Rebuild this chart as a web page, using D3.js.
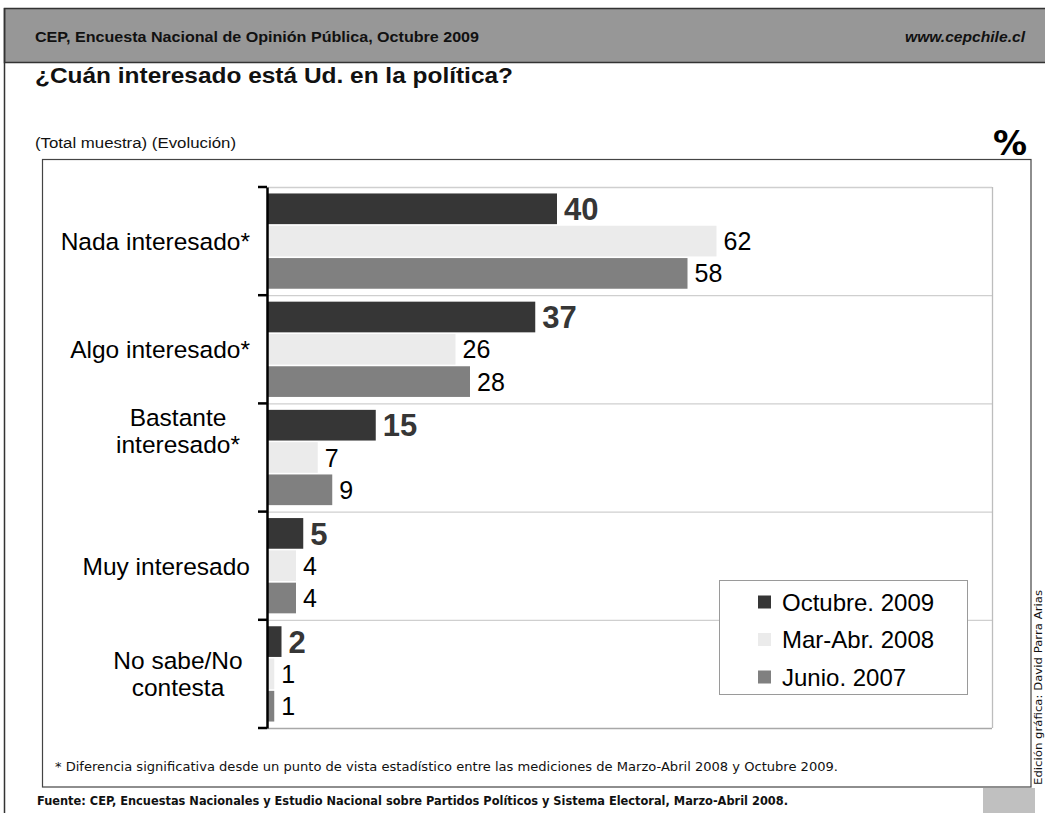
<!DOCTYPE html>
<html>
<head>
<meta charset="utf-8">
<script src="https://cdn.jsdelivr.net/npm/d3@7/dist/d3.min.js"></script>
<style>
  html, body { margin: 0; padding: 0; background: #fff; }
  svg { display: block; }
</style>
</head>
<body>
<svg id="chart" width="1045" height="813"></svg>
<script>
// ---- data ----
const categories = ["Nada interesado*", "Algo interesado*", "Bastante interesado*", "Muy interesado", "No sabe/No contesta"];
const categoryLines = [["Nada interesado*"], ["Algo interesado*"], ["Bastante", "interesado*", "", ""], ["Muy interesado"], ["No sabe/No", "contesta"]];
const seriesNames = ["Octubre. 2009", "Mar-Abr. 2008", "Junio. 2007"];
const octubre2009 = [40, 37, 15, 5, 2];
const marAbr2008 = [62, 26, 7, 4, 1];
const junio2007 = [58, 28, 9, 4, 1];
const seriesColors = ["#363636", "#ebebeb", "#808080"];

const headerLeft = "CEP, Encuesta Nacional de Opinión Pública, Octubre 2009";
const headerRight = "www.cepchile.cl";
const title = "¿Cuán interesado está Ud. en la política?";
const subtitle = "(Total muestra) (Evolución)";
const footnote = "* Diferencia significativa desde un punto de vista estadístico entre las mediciones de Marzo-Abril 2008 y Octubre 2009.";
const source = "Fuente: CEP, Encuestas Nacionales y Estudio Nacional sobre Partidos Políticos y Sistema Electoral, Marzo-Abril 2008.";
const credit = "Edición gráfica: David Parra Arias";

const seriesValues = [octubre2009, marAbr2008, junio2007];

const svg = d3.select("#chart");

// ---- page frame ----
svg.append("rect").attr("x", 4.5).attr("y", 8.5).attr("width", 1045).attr("height", 54)
  .attr("fill", "#979797").attr("stroke", "#333").attr("stroke-width", 1.5);
svg.append("line").attr("x1", 4.5).attr("x2", 4.5).attr("y1", 8).attr("y2", 813)
  .attr("stroke", "#333").attr("stroke-width", 1.5);

svg.append("text").attr("x", 35).attr("y", 42)
  .attr("font-family", "Liberation Sans, Arial, sans-serif").attr("font-weight", "bold")
  .attr("font-size", 14).attr("fill", "#111")
  .attr("textLength", 444).attr("lengthAdjust", "spacingAndGlyphs").text(headerLeft);
svg.append("text").attr("x", 905).attr("y", 42)
  .attr("font-family", "Liberation Sans, Arial, sans-serif").attr("font-weight", "bold")
  .attr("font-style", "italic").attr("font-size", 14).attr("fill", "#111")
  .attr("textLength", 120).attr("lengthAdjust", "spacingAndGlyphs").text(headerRight);

svg.append("text").attr("x", 35).attr("y", 83)
  .attr("font-family", "Liberation Sans, Arial, sans-serif").attr("font-weight", "bold")
  .attr("font-size", 22).attr("fill", "#111")
  .attr("textLength", 478).attr("lengthAdjust", "spacingAndGlyphs").text(title);

svg.append("text").attr("x", 35).attr("y", 148)
  .attr("font-family", "Liberation Sans, Arial, sans-serif")
  .attr("font-size", 14).attr("fill", "#111")
  .attr("textLength", 201).attr("lengthAdjust", "spacingAndGlyphs").text(subtitle);

svg.append("text").attr("x", 1027).attr("y", 155).attr("text-anchor", "end")
  .attr("font-family", "DejaVu Sans, sans-serif").attr("font-weight", "bold")
  .attr("font-size", 34).attr("fill", "#000").text("%");

// chart box
svg.append("rect").attr("x", 42.5).attr("y", 159.5).attr("width", 988.5).attr("height", 627.5)
  .attr("fill", "none").attr("stroke", "#444").attr("stroke-width", 1.2);

// ---- scales ----
const y = d3.scaleBand().domain(categories).range([187, 728]).paddingInner(0).paddingOuter(0);
const yi = d3.scaleBand().domain(seriesNames).range([0, y.bandwidth()]).paddingInner(0.05).paddingOuter(0.2);
const x = d3.scaleLinear().domain([0, 100]).range([267, 992]);

const plot = svg.append("g");

// gridlines at band boundaries
const bounds = categories.map(c => y(c)).concat([y.range()[1]]);
plot.selectAll("line.grid").data(bounds).join("line")
  .attr("class", "grid")
  .attr("x1", x(0)).attr("x2", x(100))
  .attr("y1", d => d + 0.5).attr("y2", d => d + 0.5)
  .attr("stroke", (d, i) => i === bounds.length - 1 ? "#a8a8a8" : "#cfcfcf").attr("stroke-width", 1.3);
plot.append("line").attr("x1", x(100) + 0.5).attr("x2", x(100) + 0.5)
  .attr("y1", y.range()[0]).attr("y2", y.range()[1])
  .attr("stroke", "#bdbdbd").attr("stroke-width", 1.3);

// bars
seriesNames.forEach((s, si) => {
  const vals = seriesValues[si];
  plot.selectAll("rect.s" + si).data(categories).join("rect")
    .attr("class", "s" + si)
    .attr("x", x(0))
    .attr("y", c => y(c) + yi(s))
    .attr("width", (c, i) => x(vals[i]) - x(0))
    .attr("height", yi.bandwidth())
    .attr("fill", seriesColors[si]);
  plot.selectAll("text.l" + si).data(categories).join("text")
    .attr("class", "l" + si)
    .attr("x", (c, i) => x(vals[i]) + 7)
    .attr("y", c => y(c) + yi(s) + yi.bandwidth() / 2)
    .attr("dy", "0.36em")
    .attr("font-family", "Liberation Sans, Arial, sans-serif")
    .attr("font-weight", si === 0 ? "bold" : "normal")
    .attr("font-size", si === 0 ? 31 : 25)
    .attr("fill", si === 0 ? "#363636" : "#000")
    .text((c, i) => vals[i]);
});

// axis
const axis = d3.axisLeft(y).tickValues([]).tickSize(0);
const axG = plot.append("g").attr("transform", `translate(${x(0)},0)`).call(axis);
axG.select(".domain").attr("stroke", "#000").attr("stroke-width", 2.5);
plot.selectAll("line.tick").data(bounds).join("line")
  .attr("class", "tick")
  .attr("x1", x(0) - 9).attr("x2", x(0))
  .attr("y1", d => d).attr("y2", d => d)
  .attr("stroke", "#000").attr("stroke-width", 2.5);

// category labels
categories.forEach((c, i) => {
  const lines = categoryLines[i];
  const cy = y(c) + y.bandwidth() / 2;
  const lh = 27;
  const t = plot.append("text")
    .attr("font-family", "Liberation Sans, Arial, sans-serif")
    .attr("font-size", 24.5).attr("fill", "#000")
    .attr("text-anchor", lines.length > 1 ? "middle" : "end");
  lines.forEach((ln, li) => {
    t.append("tspan")
      .attr("x", lines.length > 1 ? 178 : 250)
      .attr("y", cy + (li - (lines.length - 1) / 2) * lh)
      .attr("dy", "0.36em")
      .text(ln);
  });
});

// legend
const lg = svg.append("g");
lg.append("rect").attr("x", 719.5).attr("y", 580.5).attr("width", 248).attr("height", 114)
  .attr("fill", "#fff").attr("stroke", "#9a9a9a").attr("stroke-width", 1);
seriesNames.forEach((s, i) => {
  const cy = 602 + i * 37.5;
  lg.append("rect").attr("x", 758).attr("y", cy - 6.5).attr("width", 13).attr("height", 13)
    .attr("fill", seriesColors[i]);
  lg.append("text").attr("x", 782).attr("y", cy).attr("dy", "0.36em")
    .attr("font-family", "Liberation Sans, Arial, sans-serif")
    .attr("font-size", 24).attr("fill", "#000").text(s);
});

// footnote & source
svg.append("text").attr("x", 55).attr("y", 771)
  .attr("font-family", "DejaVu Sans Condensed, DejaVu Sans, sans-serif")
  .attr("font-size", 12).attr("fill", "#111")
  .attr("textLength", 783).attr("lengthAdjust", "spacingAndGlyphs")
  .text(footnote);
svg.append("text").attr("x", 37).attr("y", 805)
  .attr("font-family", "DejaVu Sans Condensed, DejaVu Sans, sans-serif")
  .attr("font-weight", "bold")
  .attr("font-size", 12.5).attr("fill", "#111")
  .attr("textLength", 751).attr("lengthAdjust", "spacingAndGlyphs")
  .text(source);

svg.append("rect").attr("x", 983).attr("y", 788).attr("width", 52).attr("height", 25).attr("fill", "#c0c0c0");

svg.append("text")
  .attr("transform", "translate(1041.5,785) rotate(-90)")
  .attr("font-family", "DejaVu Sans Condensed, DejaVu Sans, sans-serif")
  .attr("font-size", 10.5).attr("fill", "#111")
  .attr("textLength", 195).attr("lengthAdjust", "spacingAndGlyphs")
  .text(credit);
</script>
</body>
</html>
